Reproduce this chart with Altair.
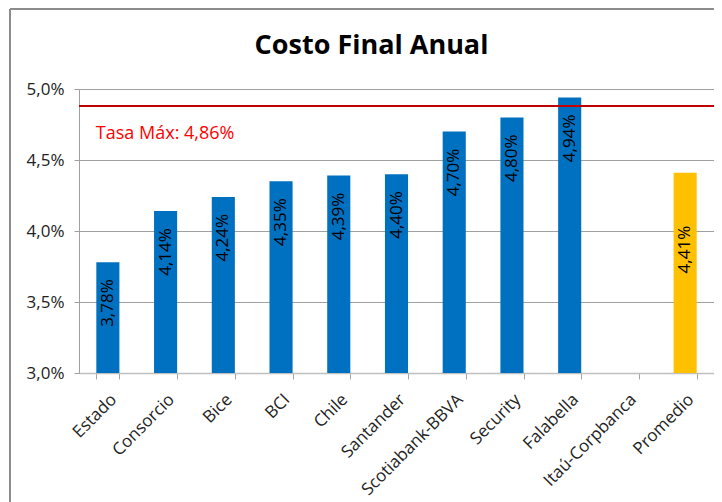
import altair as alt
import pandas as pd

categories = ["Estado", "Consorcio", "Bice", "BCI", "Chile", "Santander",
              "Scotiabank-BBVA", "Security", "Falabella", "Itaú-Corpbanca", "Promedio"]
values = [3.78, 4.14, 4.24, 4.35, 4.39, 4.40, 4.70, 4.80, 4.94, None, 4.41]
groups = ["Banco"] * 10 + ["Promedio"]
y_ticks = [3.0, 3.5, 4.0, 4.5, 5.0]
tasa_max_text = "Tasa Máx: 4,86%"
tasa_max_line = 4.88

df = pd.DataFrame({"banco": categories, "valor": values, "grupo": groups})

FONT = "Open Sans"
xscale = alt.Scale(domain=categories, paddingInner=0.6, paddingOuter=0.3)

xenc = alt.X("banco:N", scale=xscale,
             axis=alt.Axis(title=None, labelAngle=-45, labelAlign="right",
                           labelBaseline="top", labelFontSize=17, labelFont=FONT,
                           labelColor="#222222", labelPadding=12, labelOffset=0,
                           tickBand="extent",
                           tickSize=6, tickColor="#A6A6A6", domainColor="#BFBFBF",
                           domainWidth=1.5, grid=False))
yenc = alt.Y("valor:Q", scale=alt.Scale(domain=[3, 5], zero=False, nice=False),
             axis=alt.Axis(title=None, values=y_ticks, grid=True, gridColor="#A0A0A0",
                           labelExpr="replace(format(datum.value, '.1f'), '.', ',') + '%'",
                           labelFontSize=17, labelFont=FONT, labelColor="#222222",
                           tickSize=5, tickColor="#A0A0A0", domainColor="#A0A0A0",
                           labelPadding=10))

base = alt.Chart(df)

bars = base.mark_bar().encode(
    x=xenc, y=yenc, y2=alt.datum(3),
    color=alt.Color("grupo:N", scale=alt.Scale(domain=["Banco", "Promedio"],
                                               range=["#0070C0", "#FFC000"]), legend=None),
)

lbl_expr = "replace(format(datum.valor, '.2f'), '.', ',') + '%'"
labels_bank = base.transform_filter("datum.valor != null && datum.grupo == 'Banco'").transform_calculate(
    lbl=lbl_expr).mark_text(angle=270, align="right", baseline="middle", dx=-17,
                            fontSize=17, font=FONT, color="#000000").encode(
    x=alt.X("banco:N", scale=xscale), y="valor:Q", text="lbl:N")
labels_prom = base.transform_filter("datum.grupo == 'Promedio'").transform_calculate(
    lbl=lbl_expr).mark_text(angle=270, align="right", baseline="middle", dx=-53,
                            fontSize=17, font=FONT, color="#000000").encode(
    x=alt.X("banco:N", scale=xscale), y="valor:Q", text="lbl:N")

rule = alt.Chart(pd.DataFrame({"v": [tasa_max_line]})).mark_rule(color="#C00000", strokeWidth=2).encode(
    y="v:Q")
tasa_txt = alt.Chart(pd.DataFrame({"v": [tasa_max_line], "t": [tasa_max_text], "b": [categories[0]]})).mark_text(
    align="left", baseline="middle", dx=-12, dy=28, fontSize=18, font=FONT, color="#FF0000").encode(
    x=alt.X("b:N", scale=xscale), y="v:Q", text="t:N")

frame_left = alt.Chart(pd.DataFrame({"a": [0]})).mark_rule(color="#8C8C8C", strokeWidth=2).encode(
    x=alt.value(-69), y=alt.value(-80), y2=alt.value(430))
frame_top = alt.Chart(pd.DataFrame({"a": [0]})).mark_rule(color="#8C8C8C", strokeWidth=2).encode(
    x=alt.value(-69), x2=alt.value(660), y=alt.value(-80))

chart = alt.layer(bars, labels_bank, labels_prom, rule, tasa_txt, frame_left, frame_top).properties(
    width=635, height=284,
    title=alt.TitleParams("Costo Final Anual", fontSize=27, font=FONT, fontWeight="bold",
                          color="#000000", anchor="middle", dx=-25, offset=-52),
    autosize=alt.AutoSizeParams(type="none"),
    padding={"left": 71, "top": 81, "right": 0, "bottom": 140},
).configure_view(stroke=None)

chart.save("out.html", embed_options={"renderer": "svg", "actions": False})
